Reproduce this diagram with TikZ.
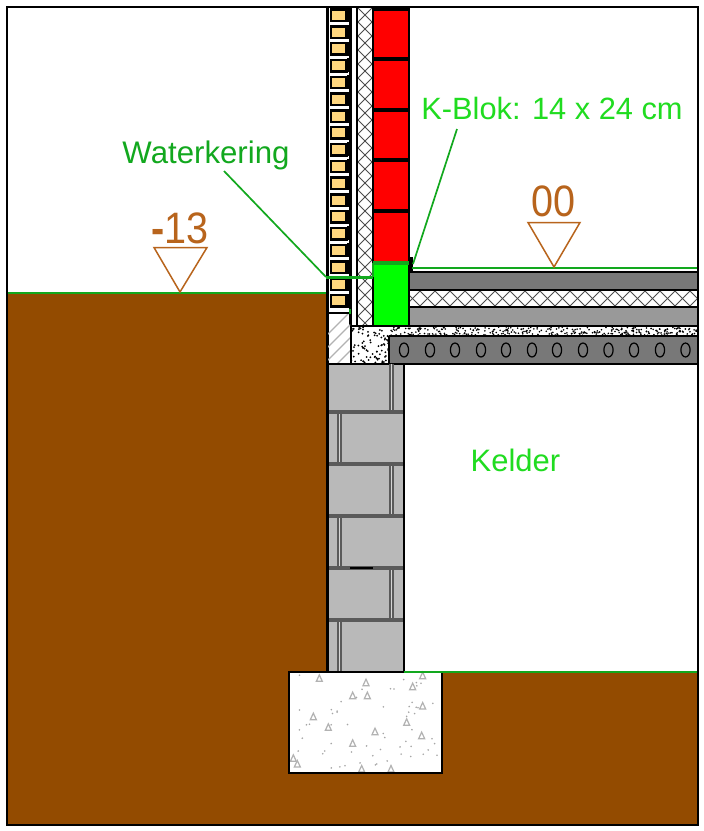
\documentclass[tikz,border=0pt]{standalone}
\usepackage{fontspec}
\setmainfont{Liberation Sans}
\definecolor{soil}{HTML}{934B00}
\definecolor{dkgreen}{HTML}{12A81E}
\definecolor{brgreen}{HTML}{00FF00}
\definecolor{lblgreen}{HTML}{20DC20}
\definecolor{lvl}{HTML}{B8641C}
\definecolor{brickyel}{HTML}{FFD77F}
\definecolor{blockgray}{HTML}{B9B9B9}
\definecolor{mortar}{HTML}{5A5A5A}
\tikzset{
  blk/.style={draw=black,line width=2.2pt},
  blkline/.style={black,line width=2.4pt},
  hatchline/.style={draw=black!70,line width=1pt},
  joint/.style={mortar,line width=5pt},
  jointin/.style={blockgray!60!white,line width=.8pt},
  lvltri/.style={draw=lvl,line width=1.5pt,fill=white},
  lvltxt/.style={text=lvl,font=\fontsize{44}{44}\selectfont,inner sep=0pt,xscale=.9},
  leader/.style={dkgreen,line width=1.7pt},
  wk/.style={dkgreen,line width=3pt},
  speck/.style={fill=black!35,draw=none},
  tri/.style={draw=black!30,line width=1.2pt,fill=white}
}
\begin{document}
\begin{tikzpicture}[x=1pt,y=-1pt]
\useasboundingbox (0,0) rectangle (704,831);
\fill[white] (0,0) rectangle (704,831);
% soil
\fill[soil] (7,293) -- (327,293) -- (327,672) -- (698,672) -- (698,825) -- (7,825) -- cycle;
\draw[wk,line width=2.4pt] (7,293) -- (327,293);
% facing bricks
\foreach \k in {0,...,17}{
  \draw[draw=black,line width=2.4pt,fill=brickyel] (331,{9.5+16.8*\k}) rectangle (346.5,{21+16.8*\k});
  \draw[black,line width=3pt] (348.5,{8+16.8*\k}) -- (348.5,{22+16.8*\k});
}
\draw[blkline] (327.5,7) -- (327.5,364);
\draw[blkline] (350.5,7) -- (350.5,326);
\draw[blkline] (357,7) -- (357,326);
\draw[blkline] (327,313) -- (350,313);
% wall insulation
\begin{scope}
\clip (358,7) rectangle (373,326);
\foreach \k in {-2,...,26}{
  \draw[hatchline] (350,{\k*14}) -- (380,{\k*14+30});
  \draw[hatchline] (350,{\k*14+30}) -- (380,{\k*14});
}
\end{scope}
% hatched strip
\begin{scope}
\clip (328,314) rectangle (350,364);
\foreach \k in {0,...,7}{
  \draw[black!30,line width=1.3pt] (320,{312+\k*13+30}) -- (360,{312+\k*13-10});
}
\end{scope}
% red blocks
\fill[red] (373,8) rectangle (409,262);
\foreach \y in {59,110,160,211}{\draw[black,line width=3.5pt] (373,\y) -- (409,\y);}
\draw[black,line width=3.5pt] (373,9) -- (409,9);
\draw[blkline] (373,7) -- (373,326);
\draw[blkline] (409,7) -- (409,326);
% floor layers
\fill[black!53] (410,272) rectangle (697,290);
\fill[black!40] (410,307) rectangle (697,326);
\begin{scope}
\clip (410,291) rectangle (697,306);
\foreach \k in {0,...,24}{
  \draw[hatchline] ({400+\k*15},286) -- ({425+\k*15},311);
  \draw[hatchline] ({400+\k*15},311) -- ({425+\k*15},286);
}
\end{scope}
\foreach \y in {272,290,307}{\draw[blkline] (409,\y) -- (698,\y);}
\draw[blkline] (351,326) -- (698,326);
% concrete speckle
\pgfmathsetseed{4711}
\begin{scope}
\clip (351,327) rectangle (389,364);
\foreach \k in {1,...,85}{
  \pgfmathsetmacro{\px}{351+38*rnd}\pgfmathsetmacro{\py}{327+37*rnd}
  \fill[black] (\px,\py) circle (1pt);
}
\end{scope}
\begin{scope}
\clip (389,327) rectangle (697,336);
\foreach \k in {1,...,340}{
  \pgfmathsetmacro{\px}{389+308*rnd}\pgfmathsetmacro{\py}{327+9*rnd}
  \fill[black] (\px,\py) circle (.9pt);
}
\end{scope}
% slab
\fill[black!53] (389,336) rectangle (698,364);
\draw[blkline] (389,336) -- (698,336);
\draw[blkline] (389,336) -- (389,364);
\foreach \x in {404,430,455,481,506,532,557,583,608.5,634,660,685.5}{
  \draw[black,line width=1.2pt] (\x,350) ellipse (4.6pt and 7pt);
}
\draw[blkline] (327,364) -- (698,364);
\draw[blkline] (351,326) -- (351,364);
% block wall
\fill[blockgray] (328,365) rectangle (404,672);
\foreach \y/\x in {388/391,490/391,594/391,438/339,542/339,646/339}{
  \draw[joint] (\x,\y-24.5) -- (\x,\y+24.5);
  \draw[jointin] (\x,\y-24.5) -- (\x,\y+24.5);
}
\foreach \y in {412,464,516,568,620}{\draw[mortar,line width=4pt] (328,\y) -- (404,\y);}
\draw[black,line width=2pt] (350,568) -- (373,568);
\draw[blkline] (327.5,364) -- (327.5,672);
\draw[blkline] (404,364) -- (404,672);
% green K-block
\fill[brgreen] (373,263) rectangle (409,325);
\draw[blkline] (373,263) -- (373,326);
\draw[blkline] (409,263) -- (409,326);
\draw[blkline] (373,326) -- (409,326);
\draw[black,line width=3pt] (411.5,257) -- (411.5,272);
% footing
\fill[white] (289,672) rectangle (442,773);
\pgfmathsetseed{915}
\foreach \k in {1,...,60}{
  \pgfmathsetmacro{\px}{292+147*rnd}\pgfmathsetmacro{\py}{675+95*rnd}
  \fill[speck] (\px,\py) circle (.9pt);
}
\foreach \a/\b in {118/385,258/398,218/437,262/437,398/410,428/468,100/500,145/532,380/517,285/545,425/557,218/580,40/625,52/642,245/657,333/657,428/377}{
  \draw[tri] ({280+\a/3-3},{550+\b/3+3}) -- ({280+\a/3+3},{550+\b/3+3}) -- ({280+\a/3},{550+\b/3-3.5}) -- cycle;
}
\draw[blk] (289,672) rectangle (442,773);
\draw[wk,line width=2.4pt] (404,672) -- (698,672);
% waterkering lines
\coordinate (wkA) at (326,277);
\coordinate (wkB) at (373,277);
\coordinate (wkC) at (373,263);
\coordinate (wkD) at (409,263);
\coordinate (flA) at (412,268);
\coordinate (flB) at (698,268);
\coordinate (kbEnd) at (413,264);
\draw[wk] (wkA) -- (wkB);
\draw[wk,line width=2.4pt] (wkB) -- (wkC);
\draw[wk,line width=4pt] (wkC) -- (wkD);
\draw[wk,line width=2.4pt] (flA) -- (flB);
\draw[dkgreen,line width=1.5pt] (350,309) -- (350,314);
% level marks
\coordinate (lvA) at (180,292);
\coordinate (lvB) at (554,267);
\draw[lvltri] (154,247.5) -- (207,247.5) -- (lvA) -- cycle;
\draw[lvltri] (528,222.5) -- (580,222.5) -- (lvB) -- cycle;
\node[lvltxt,anchor=base] (lvlA) at (180,243) {{\bfseries -}13};
\node[lvltxt,anchor=base] (lvlB) at (554,216.5) {00};
% labels
\node[text=dkgreen,font=\fontsize{31.2}{31}\selectfont,inner sep=0pt,anchor=base] (wklabel) at (206,163) {Waterkering};
\node[text=lblgreen,font=\fontsize{30.8}{31}\selectfont,inner sep=0pt,anchor=base] (kblabel) at (552,119) {K-Blok: 14 x 24 cm};
\node[text=lblgreen,font=\fontsize{31}{31}\selectfont,inner sep=0pt,anchor=base] (kelder) at (515.5,471) {Kelder};
\draw[leader] (224,171) -- (wkA);
\draw[leader] (457,129) -- (kbEnd);
% frame
\draw[blk] (7,7) rectangle (698,825);
\end{tikzpicture}
\end{document}
